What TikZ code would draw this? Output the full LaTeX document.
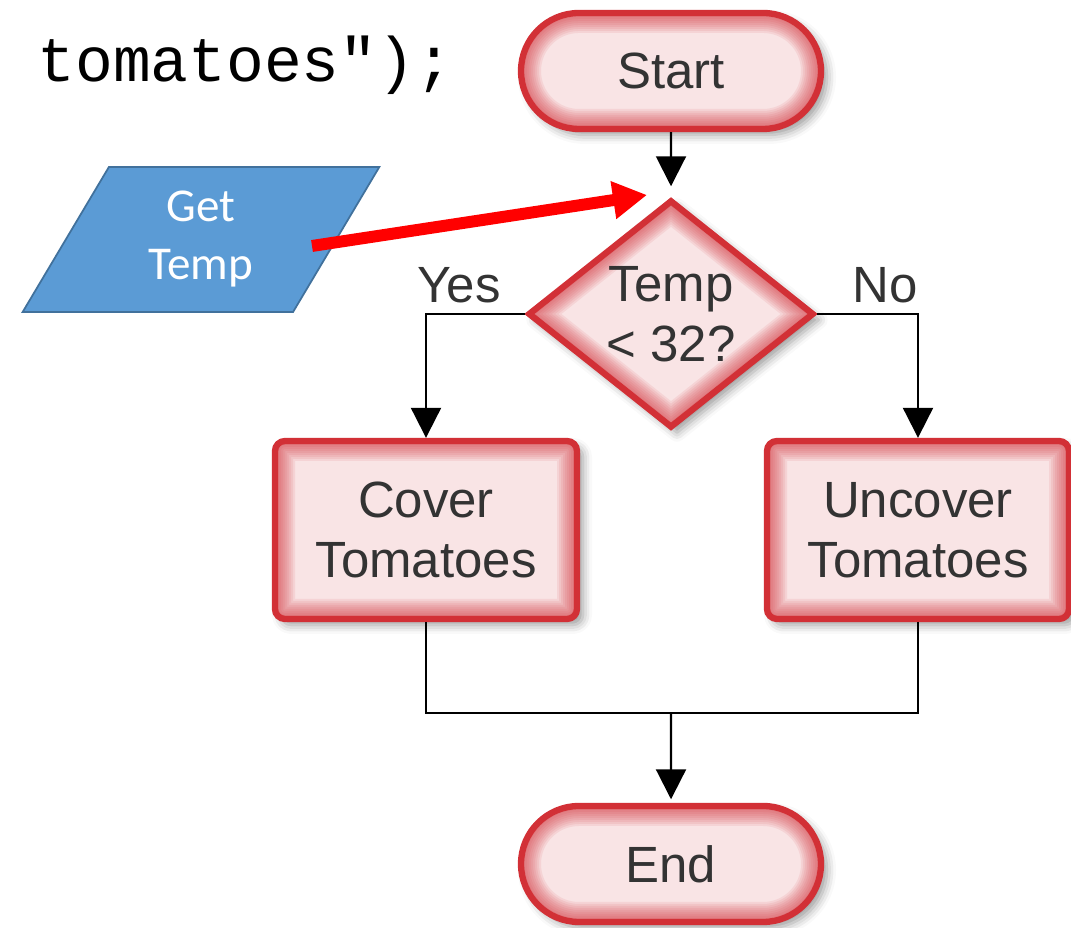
\documentclass[tikz,border=0pt]{standalone}
\usepackage{fontspec}
\usetikzlibrary{arrows.meta,shapes.geometric,shapes.misc,shadows.blur}
\newfontfamily\flowfont{Liberation Sans}
\newfontfamily\getfont{Carlito}
\newfontfamily\codefont{Liberation Mono}
\definecolor{flowred}{RGB}{210,48,54}
\definecolor{flowpink}{RGB}{249,228,229}
\definecolor{flowtext}{RGB}{51,51,51}
\definecolor{inblue}{RGB}{91,155,213}
\definecolor{inborder}{RGB}{65,113,156}
% soft red band inside the border
\newcommand{\innerglow}[1]{\foreach \w in {0.40,0.36,...,0.08}{\draw[flowred,line width=\w cm,opacity=0.09] #1;}}
\tikzset{
  flow/.style={draw=flowred, line width=1.8pt, fill=flowpink, text=flowtext, inner sep=0pt,
    font=\flowfont\fontsize{14.5pt}{17pt}\selectfont, align=center,
    blur shadow={shadow xshift=0.06cm, shadow yshift=-0.06cm, shadow blur radius=0.09cm, shadow opacity=40}},
  terminal/.style={flow, rounded rectangle, minimum width=3.00cm, minimum height=1.16cm,
    path picture={\innerglow{[rounded corners=0.58cm] (path picture bounding box.south west) rectangle (path picture bounding box.north east)}}},
  process/.style={flow, rectangle, rounded corners=0.1cm, minimum width=3.02cm, minimum height=1.78cm,
    path picture={\innerglow{[rounded corners=0.1cm] (path picture bounding box.south west) rectangle (path picture bounding box.north east)}}},
  decision/.style={flow, diamond, minimum width=2.86cm, minimum height=2.28cm,
    path picture={\innerglow{(path picture bounding box.north) -- (path picture bounding box.east) -- (path picture bounding box.south) -- (path picture bounding box.west) -- cycle}}},
  input/.style={trapezium, trapezium left angle=63, trapezium right angle=117, trapezium stretches=true,
    draw=inborder, line width=0.5pt, fill=inblue, text=white, inner sep=0pt,
    minimum width=3.58cm, minimum height=1.45cm, align=center,
    font=\getfont\fontsize{13.4pt}{16.5pt}\selectfont},
  label text/.style={text=flowtext, inner sep=0pt, anchor=base, font=\flowfont\fontsize{14.5pt}{17pt}\selectfont},
  flowarrow/.style={-{Triangle[length=0.3cm,width=0.3cm]}, line width=0.6pt, black}
}
\begin{document}
\begin{tikzpicture}
\useasboundingbox (0,0) rectangle (10.71,9.28);
\node[anchor=base west, inner sep=0pt, font=\codefont\fontsize{17.9pt}{20pt}\selectfont] (code) at (0.37,8.46) {tomatoes");};
\node[terminal] (S) at (6.71,8.57) {Start};
\node[decision] (Q) at (6.71,6.14) {Temp\\< 32?};
\node[label text] (yes) at (4.59,6.25) {Yes};
\node[label text] (no) at (8.85,6.25) {No};
\node[process] (C) at (4.26,3.98) {Cover\\Tomatoes};
\node[process] (U) at (9.18,3.98) {Uncover\\Tomatoes};
\node[terminal] (E) at (6.71,0.64) {End};
\node[input] (G) at (2.01,6.885) {Get\\Temp};
\coordinate (J) at (6.71,2.15);
\coordinate (Gout) at (3.12,6.82);
\coordinate (Qin) at (6.47,7.33);
\path
  (S) edge [flowarrow, shorten >=3pt] (Q)
  (J) edge [flowarrow, shorten >=1pt] (E)
;
\draw[flowarrow] (Q.west) -| (C.north);
\draw[flowarrow] (Q.east) -| (U.north);
\draw[line width=0.6pt] (C.south) |- (J) -| (U.south);
\draw[red, line width=3.4pt, -{Triangle[length=0.34cm,width=0.36cm]}] (Gout) -- (Qin);
\end{tikzpicture}
\end{document}
